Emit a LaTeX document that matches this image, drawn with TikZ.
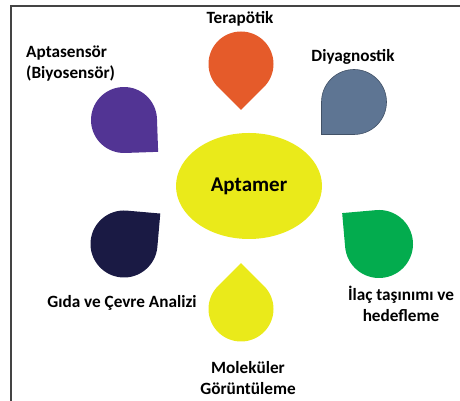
\documentclass[tikz,border=0pt]{standalone}
\usepackage{fontspec}
\setmainfont{Carlito}
\usetikzlibrary{shapes.geometric}
\definecolor{terapcol}{HTML}{E55B2A}
\definecolor{aptascol}{HTML}{523494}
\definecolor{diyagcol}{HTML}{5E7593}
\definecolor{gidacol}{HTML}{1A1A44}
\definecolor{ilaccol}{HTML}{03AC4E}
\definecolor{molcol}{HTML}{EAEA1A}
\definecolor{framecol}{HTML}{444444}
% teardrop: centre, radius, angle of the tip, colour
\newcommand{\tear}[4]{%
  \fill[#4] (#1) ++(#3+45:#2) arc[start angle=#3+45, end angle=#3+315, radius=#2]
    -- ++(#3+45:#2) -- cycle;}

\begin{document}
\begin{tikzpicture}[x=1pt, y=1pt]
    \tikzstyle{lbl} = [font=\fontsize{17.2}{21}\selectfont\bfseries, align=center, inner sep=0pt]
  \useasboundingbox (0,0) rectangle (460,401);
  \draw[framecol, line width=1.5pt] (11,0) -- (11,395) -- (460,395);
  % centre
  \node[ellipse, fill=molcol, minimum width=146, minimum height=106, inner sep=0pt,
        font=\fontsize{21}{25}\selectfont\bfseries](apt) at (249,215){Aptamer};
  % drops
  \coordinate (terapc) at (241,337);
  \coordinate (aptasc) at (124,281);
  \coordinate (diyagc) at (354,299);
  \coordinate (gidac) at (124,157);
  \coordinate (ilacc) at (379,157);
  \coordinate (molc) at (241,92);
  \tear{terapc}{32.5}{-90}{terapcol}
  \tear{aptasc}{33}{-43}{aptascol}
  \tear{diyagc}{32.5}{-135}{diyagcol}
  \draw[diyagcol!70!black, line width=0.6pt] (diyagc) ++(-90:32.5) arc[start angle=-90, end angle=180, radius=32.5]
    -- ++(-90:32.5) -- cycle;
  \tear{gidac}{33.5}{40}{gidacol}
  \tear{ilacc}{34}{140}{ilaccol}
  \tear{molc}{32.5}{90}{molcol}
  % labels
  \node[lbl](terap) at (240,382){Terapötik};
  \node[lbl, align=left, anchor=west](aptas) at (26,337){Aptasensör\\(Biyosensör)};
  \node[lbl](diyag) at (353,344){Diyagnostik};
  \node[lbl](gida) at (122,98){Gıda ve Çevre Analizi};
  \node[lbl](ilac) at (401,97){İlaç taşınımı ve\\hedefleme};
  \node[lbl](mol) at (248,23){Moleküler\\Görüntüleme};
\end{tikzpicture}
\end{document}
